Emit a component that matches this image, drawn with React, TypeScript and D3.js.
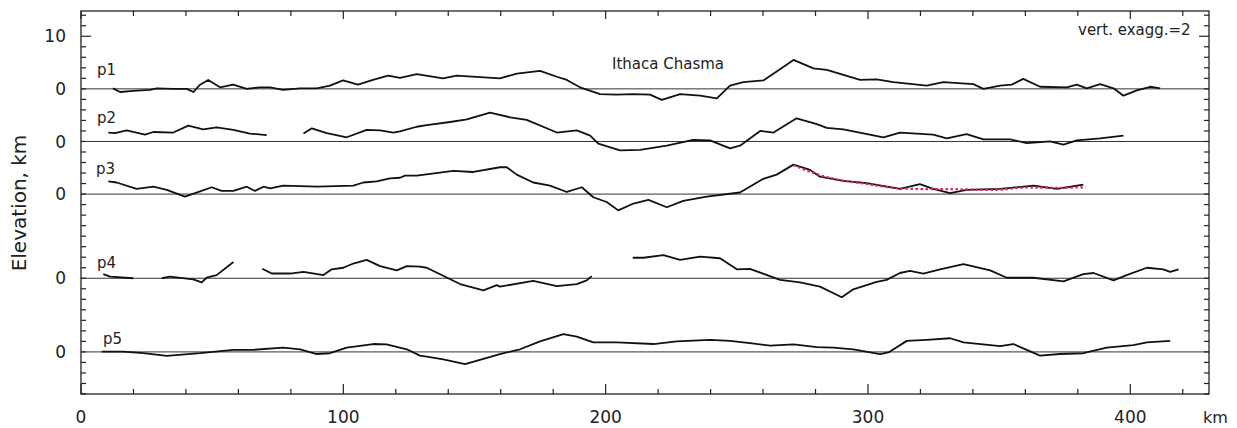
import React, { useEffect, useRef } from 'react';
import * as d3 from 'd3';

// profile data: [distance km, elevation km], null = data gap
type Pt = [number, number] | null;

const p1: Pt[] = [
  [12.2, 0.1], [14.9, -0.6], [19.9, -0.4], [26.3, -0.2], [28.9, 0.1], [35.2, 0], [40.3, 0], [42.8, -0.6],
  [45.4, 0.8], [48.5, 1.7], [53, 0.3], [58, 0.8], [63.2, 0], [68.2, 0.3], [72.1, 0.3], [77, -0.2],
  [83.5, 0.1], [89.9, 0.1], [94.9, 0.6], [99.9, 1.6], [105.6, 0.8], [111.3, 1.7], [117.1, 2.5], [121.6, 2.1],
  [128, 2.8], [138, 2.0], [143.2, 2.5], [159.7, 2.0], [166.1, 2.9], [175, 3.4], [181.4, 2.3], [185.2, 1.7],
  [190.2, 0.3], [197.9, -1.0], [204.2, -1.1], [210.6, -1.0], [216.9, -1.1], [221.4, -2.1], [228.4, -1.0],
  [236, -1.3], [242.4, -1.8], [247.4, 0.6], [252.5, 1.3], [260.1, 1.6], [265.2, 3.3], [271.6, 5.5],
  [279.2, 3.9], [284.3, 3.6], [297, 1.7], [303.3, 1.8], [309.7, 1.3], [322.4, 0.6], [328.7, 1.3],
  [340.2, 0.9], [344, 0], [350.4, 0.6], [354.8, 0.8], [359.2, 1.9], [365.6, 0.4], [375.8, 0.3], [379.6, 0.8],
  [383.4, 0.1], [388.5, 0.9], [393.6, 0.1], [397.4, -1.3], [402.5, -0.3], [407.6, 0.4], [411.4, 0.1],
];

const p2: Pt[] = [
  [10.4, 1.7], [13, 1.6], [17.4, 2.1], [24.4, 1.3], [27.6, 1.8], [35.2, 1.7], [40.9, 3.0], [46.6, 2.3],
  [51.7, 2.7], [58.1, 2.2], [64.4, 1.5], [70.8, 1.2], null,
  [84.8, 1.5], [88, 2.5], [93.7, 1.6], [101.3, 0.8], [108.9, 2.2], [114, 2.1], [119.1, 1.7], [121.6, 1.9],
  [128, 2.8], [131.8, 3.1], [140.7, 3.7], [147.1, 4.2], [155.9, 5.5], [163.6, 4.6], [169.9, 4.1], [181.4, 1.7],
  [189, 2.1], [194.1, 1.1], [197.2, -0.4], [205.5, -1.7], [213.1, -1.6], [223.3, -0.8], [233.4, 0.3],
  [239.8, 0.2], [247.4, -1.3], [251.2, -0.8], [258.9, 2.0], [264, 1.7], [272.8, 4.4], [280.5, 3.3],
  [284.3, 2.6], [290.6, 2.3], [305.9, 0.8], [312.2, 1.7], [324.9, 1.3], [330, 0.6], [337.6, 1.4], [344, 0.4],
  [354.2, 0.4], [360.5, -0.3], [369.4, 0], [374.5, -0.6], [379.6, 0.2], [388.5, 0.6], [397.4, 1.1],
];

const p3: Pt[] = [
  [10.4, 2.4], [13.6, 2.2], [21.2, 1.0], [27.6, 1.4], [32.7, 0.8], [39.6, -0.5], [45.4, 0.5], [49.8, 1.3],
  [53.6, 0.6], [58.1, 0.6], [63.2, 1.4], [66.3, 0.6], [69.5, 1.4], [72.1, 1.1], [77.1, 1.6], [89.9, 1.4],
  [103.8, 1.6], [107.6, 2.2], [112.7, 2.4], [117.8, 3.0], [121.6, 3.1], [123.5, 3.5], [128, 3.5], [141.9, 4.4],
  [149.6, 4.2], [159.7, 5.1], [162.3, 5.1], [166.1, 3.7], [172.4, 2.2], [178.8, 1.6], [185.2, 0.4],
  [190.9, 1.3], [195.3, -0.6], [200.4, -1.5], [204.8, -3.1], [210.6, -1.8], [216.3, -1.1], [223.3, -2.5],
  [229.6, -1.3], [238.5, -0.5], [251.2, 0.3], [260.1, 2.9], [265.2, 3.7], [271.6, 5.6], [277.9, 4.6],
  [281.7, 3.3], [290.6, 2.5], [299.5, 2.1], [312.2, 1.0], [319.8, 1.9], [324.9, 1.0], [331.3, 0.2],
  [337.6, 0.8], [350.4, 1.0], [363.1, 1.6], [372, 1.0], [382.1, 1.8],
];

// red dotted fit over the eastern flank of p3
const p3Fit: Pt[] = [
  [271.6, 5.5], [281.7, 3.6], [290, 2.6], [297, 2.1], [312.2, 1.1], [322.4, 0.95], [330, 0.95],
  [347.7, 0.8], [360.5, 1.25], [372, 1.2], [383, 1.3],
];

const p4: Pt[] = [
  [8.5, 0.8], [11.1, 0.3], [19.9, 0], null,
  [30.8, 0], [33.9, 0.3], [42.8, -0.2], [46, -0.8], [47.9, 0.1], [51.7, 0.6], [58.1, 3.1], null,
  [69.1, 1.8], [72.7, 0.9], [79.7, 0.9], [84.8, 1.2], [92.4, 0.6], [95.6, 1.7], [100, 2.0], [103.8, 2.8],
  [108.9, 3.5], [114, 2.3], [120.4, 1.5], [124.2, 2.3], [129.2, 2.2], [131.8, 2.0], [144.5, -1.1],
  [153.4, -2.3], [158.5, -1.3], [159.7, -1.6], [172.4, -0.5], [181.4, -1.5], [189, -1.1], [192.8, -0.4],
  [194.7, 0.4], null,
  [210.3, 3.9], [214.4, 3.9], [222, 4.4], [228.4, 3.5], [236, 4.1], [243.6, 3.8], [250, 1.7], [255, 1.8],
  [266.5, -0.3], [274.1, -0.8], [281.7, -1.6], [290, -3.6], [294.4, -2.1], [303.3, -0.7], [307.1, -0.3],
  [312.2, 1.0], [316, 1.4], [321.1, 0.9], [327.5, 1.7], [336.4, 2.7], [346.6, 1.5], [352.9, 0.1],
  [363.1, 0.1], [374.5, -0.6], [382.1, 0.8], [386, 1.0], [393.6, -0.4], [398.6, 0.6], [406.3, 2.0],
  [412.6, 1.7], [415.2, 1.2], [418.4, 1.7],
];

const p5: Pt[] = [
  [7.9, 0.05], [16.1, 0.05], [23.8, -0.25], [32.7, -0.75], [45.4, -0.25], [58.1, 0.4], [65.7, 0.4],
  [77.1, 0.8], [83.5, 0.5], [89.9, -0.4], [94.9, -0.25], [101.3, 0.8], [111.4, 1.5], [116.5, 1.45],
  [124.2, 0.5], [129.2, -0.7], [131.8, -0.9], [138.1, -1.4], [146.4, -2.3], [159.7, -0.4], [167.4, 0.5],
  [175, 2.0], [183.9, 3.4], [189, 2.9], [195.3, 1.8], [204.2, 1.8], [218.2, 1.5], [227.1, 2.0],
  [239.8, 2.3], [247.4, 2.1], [255, 1.65], [262.7, 1.2], [271.6, 1.45], [280.5, 0.9], [286.8, 0.8],
  [294.4, 0.5], [304.6, -0.4], [307.8, -0.1], [314.8, 2.1], [322.4, 2.3], [331.3, 2.6], [336.4, 1.8],
  [350.4, 1.1], [355.4, 1.5], [365.6, -0.7], [373.2, -0.4], [382.1, -0.25], [391, 0.8], [401.2, 1.3],
  [406.3, 1.8], [415.2, 2.1],
];

const profiles = [p1, p2, p3, p4, p5];
const profileNames = ['p1', 'p2', 'p3', 'p4', 'p5'];
const profileOffsets = [0, -10, -20, -36, -50]; // vertical stacking, km
const xTicks = [0, 100, 200, 300, 400];
const yLabelTicks = [10, 0, -10, -20, -36, -50];
const yLabelText = ['10', '0', '0', '0', '0', '0'];

const W = 1237;
const H = 428;
const FONT = 'DejaVu Sans, sans-serif';

const App = () => {
  const ref = useRef<SVGSVGElement>(null);

  useEffect(() => {
    const svg = d3.select(ref.current);
    svg.selectAll('*').remove();

    const x = d3.scaleLinear().domain([0, 430]).range([81, 1209]);
    const y = d3.scaleLinear().domain([-58, 14.8]).range([394, 11]);
    const [x0, x1] = x.range();
    const [y0, y1] = y.range();

    svg.append('rect').attr('width', W).attr('height', H).attr('fill', '#fff');

    // zero reference lines
    svg.selectAll('line.zero')
      .data(profileOffsets)
      .enter()
      .append('line')
      .attr('x1', x0).attr('x2', x1)
      .attr('y1', d => y(d)).attr('y2', d => y(d))
      .attr('stroke', '#333')
      .attr('stroke-width', 1);

    // frame
    svg.append('rect')
      .attr('x', x0).attr('y', y1)
      .attr('width', x1 - x0).attr('height', y0 - y1)
      .attr('fill', 'none')
      .attr('stroke', '#222')
      .attr('stroke-width', 1.3);

    // x ticks (inward, top and bottom)
    const xMinor = d3.range(0, 431, 20);
    const tk = svg.append('g').attr('stroke', '#222').attr('stroke-width', 1.2);
    xMinor.forEach(v => {
      const major = v % 100 === 0;
      const len = major ? 10 : 5;
      tk.append('line').attr('x1', x(v)).attr('x2', x(v)).attr('y1', y0).attr('y2', y0 - len);
      tk.append('line').attr('x1', x(v)).attr('x2', x(v)).attr('y1', y1).attr('y2', y1 + (major ? 8 : 5));
    });

    // y ticks (inward, left and right), every 2 km
    d3.range(-58, 15, 2).forEach(v => {
      const len = v === 10 ? 10 : 5;
      tk.append('line').attr('x1', x0).attr('x2', x0 + len).attr('y1', y(v)).attr('y2', y(v));
      tk.append('line').attr('x1', x1).attr('x2', x1 - len).attr('y1', y(v)).attr('y2', y(v));
    });

    // x tick labels
    svg.selectAll('text.xl')
      .data(xTicks)
      .enter()
      .append('text')
      .attr('x', d => x(d))
      .attr('y', 423)
      .attr('text-anchor', 'middle')
      .style('font-family', FONT)
      .style('font-size', '17px')
      .style('fill', '#222')
      .text(d => String(d));

    svg.append('text')
      .attr('x', 1203).attr('y', 423)
      .style('font-family', FONT).style('font-size', '16px').style('fill', '#222')
      .text('km');

    // y tick labels
    svg.selectAll('text.yl')
      .data(yLabelTicks)
      .enter()
      .append('text')
      .attr('x', 66)
      .attr('y', d => y(d))
      .attr('dy', '0.36em')
      .attr('text-anchor', 'end')
      .style('font-family', FONT)
      .style('font-size', '17px')
      .style('fill', '#222')
      .text((d, i) => yLabelText[i]);

    svg.append('text')
      .attr('transform', `translate(26,203) rotate(-90)`)
      .attr('text-anchor', 'middle')
      .style('font-family', FONT).style('font-size', '20px').style('fill', '#222')
      .text('Elevation, km');

    // profiles
    profiles.forEach((prof, i) => {
      const line = d3.line<Pt>()
        .defined(d => d !== null)
        .x(d => x((d as [number, number])[0]))
        .y(d => y((d as [number, number])[1] + profileOffsets[i]));
      svg.append('path')
        .attr('d', line(prof))
        .attr('fill', 'none')
        .attr('stroke', '#111')
        .attr('stroke-width', 1.8)
        .attr('stroke-linejoin', 'round');
    });

    const fitLine = d3.line<Pt>()
      .x(d => x((d as [number, number])[0]))
      .y(d => y((d as [number, number])[1] + profileOffsets[2]))
      .curve(d3.curveMonotoneX);
    svg.append('path')
      .attr('d', fitLine(p3Fit))
      .attr('fill', 'none')
      .attr('stroke', '#e8234f')
      .attr('stroke-width', 2.2)
      .attr('stroke-dasharray', '2.5 2.5');

    // profile names
    const labelLift = [14, 18, 20, 10, 8];
    const labelX = [97, 97, 96, 97, 103];
    profileNames.forEach((name, i) => {
      svg.append('text')
        .attr('x', labelX[i])
        .attr('y', y(profileOffsets[i]) - labelLift[i])
        .style('font-family', FONT).style('font-size', '15px').style('fill', '#222')
        .text(name);
    });

    svg.append('text')
      .attr('x', 612).attr('y', 69)
      .style('font-family', FONT).style('font-size', '15px').style('fill', '#222')
      .text('Ithaca Chasma');

    svg.append('text')
      .attr('x', 1078).attr('y', 35)
      .style('font-family', FONT).style('font-size', '15px').style('fill', '#222')
      .text('vert. exagg.=2');
  }, []);

  return (
    <div style={{ position: 'absolute', left: 0, top: 0 }}>
      <svg ref={ref} width={W} height={H} style={{ display: 'block' }}></svg>
    </div>
  );
};

export default App;
